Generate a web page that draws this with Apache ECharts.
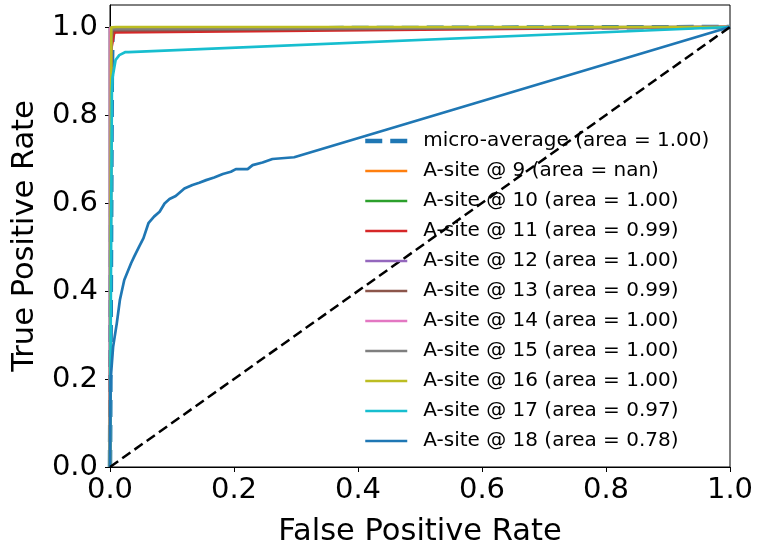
<!DOCTYPE html>
<html>
<head>
<meta charset="utf-8">
<script src="https://cdn.jsdelivr.net/npm/echarts@6/dist/echarts.min.js"></script>
<style>
    html, body { margin: 0; padding: 0; background: #fff; }
    #chart { width: 757px; height: 547px; }
</style>
</head>
<body>
<div id="chart"></div>
<script>
// ROC curves, [fpr, tpr] pairs
var seriesNames = ['micro-average (area = 1.00)', 'A-site @ 9 (area = nan)', 'A-site @ 10 (area = 1.00)',
    'A-site @ 11 (area = 0.99)', 'A-site @ 12 (area = 1.00)', 'A-site @ 13 (area = 0.99)',
    'A-site @ 14 (area = 1.00)', 'A-site @ 15 (area = 1.00)', 'A-site @ 16 (area = 1.00)',
    'A-site @ 17 (area = 0.97)', 'A-site @ 18 (area = 0.78)'];
var seriesColors = ['#1f77b4', '#ff7f0e', '#2ca02c', '#d62728', '#9467bd', '#8c564b',
    '#e377c2', '#7f7f7f', '#bcbd22', '#17becf', '#1f77b4'];

var microAvg = [[0, 0], [0.003, 0.9], [0.004, 0.985], [0.01, 0.996], [1, 1]];
var site9 = [];
var site10 = [[0, 0], [0, 0.998], [0.002, 1], [1, 1]];
var site11 = [[0, 0], [0.002, 0.95], [0.007, 0.988], [1, 1]];
var site12 = [[0, 0], [0, 0.997], [0.003, 1], [1, 1]];
var site13 = [[0, 0], [0.002, 0.97], [0.005, 0.992], [1, 1]];
var site14 = [[0, 0], [0, 0.998], [0.002, 1], [1, 1]];
var site15 = [[0, 0], [0.002, 0.99], [0.004, 0.995], [1, 1]];
var site16 = [[0, 0], [0.002, 0.999], [0.01, 1], [1, 1]];
var site17 = [[0, 0], [0.003, 0.85], [0.004, 0.884], [0.009, 0.925], [0.015, 0.936], [0.025, 0.943], [0.03, 0.943], [1, 1]];
var site18 = [[0, 0], [0.001, 0.198], [0.005, 0.273], [0.011, 0.327], [0.016, 0.38], [0.023, 0.425],
    [0.034, 0.463], [0.039, 0.478], [0.047, 0.501], [0.054, 0.52], [0.062, 0.554], [0.071, 0.569],
    [0.08, 0.58], [0.088, 0.599], [0.096, 0.609], [0.106, 0.616], [0.12, 0.633], [0.133, 0.641],
    [0.144, 0.646], [0.155, 0.652], [0.168, 0.658], [0.182, 0.666], [0.195, 0.671], [0.203, 0.677],
    [0.222, 0.677], [0.23, 0.686], [0.246, 0.692], [0.262, 0.7], [0.297, 0.704], [1, 1]];
var chanceLine = [[0, 0], [1, 1]];

var tickValues = [0, 0.2, 0.4, 0.6, 0.8, 1.0];

var curves = [microAvg, site9, site10, site11, site12, site13, site14, site15, site16, site17, site18];

var chart = echarts.init(document.getElementById('chart'));
var font = 'DejaVu Sans';

var series = curves.map(function (d, i) {
    return {
        name: seriesNames[i],
        type: 'line',
        data: d,
        symbol: 'none',
        animation: false,
        color: seriesColors[i],
        itemStyle: {opacity: 0},
        lineStyle: i === 0
            ? {width: 4.5, type: [17, 8], color: seriesColors[i]}
            : {width: 2.7, color: seriesColors[i]}
    };
});
series.push({
    name: 'chance',
    type: 'line',
    data: chanceLine,
    symbol: 'none',
    animation: false,
    lineStyle: {width: 2.5, type: [10, 5], color: '#000'}
});

var axisCommon = {
    type: 'value',
    min: 0,
    nameLocation: 'middle',
    nameTextStyle: {fontFamily: font, fontSize: 30.5, color: '#000'},
    axisLine: {show: true, lineStyle: {color: '#000', width: 1}},
    axisTick: {show: true, inside: false, length: 5, customValues: tickValues, lineStyle: {color: '#000'}},
    axisLabel: {
        customValues: tickValues,
        fontFamily: font, fontSize: 29, color: '#000',
        formatter: function (v) { return v.toFixed(1); }
    },
    splitLine: {show: false}
};

var option = {
    backgroundColor: '#fff',
    animation: false,
    grid: {
        left: 110, right: 27, top: 5, bottom: 80,
        outerBoundsMode: 'none', containLabel: false,
        show: true, borderColor: '#000', borderWidth: 1
    },
    legend: {
        data: seriesNames,
        orient: 'vertical',
        left: 358,
        top: 126,
        itemWidth: 42,
        itemHeight: 14,
        itemGap: 10,
        itemStyle: {opacity: 0},
        lineStyle: {width: 'inherit', type: 'inherit'},
        textStyle: {fontFamily: font, fontSize: 20, color: '#000', lineHeight: 20, padding: [0, 0, 0, 11]},
        selectedMode: false
    },
    xAxis: Object.assign({}, axisCommon, {
        max: 1,
        name: 'False Positive Rate',
        nameGap: 50,
        axisLabel: Object.assign({}, axisCommon.axisLabel, {margin: 9})
    }),
    yAxis: Object.assign({}, axisCommon, {
        max: 1.05,
        name: 'True Positive Rate',
        nameGap: 68,
        nameRotate: 90,
        axisLabel: Object.assign({}, axisCommon.axisLabel, {margin: 12})
    }),
    series: series
};

chart.setOption(option);
window.addEventListener('resize', chart.resize);
</script>
</body>
</html>
